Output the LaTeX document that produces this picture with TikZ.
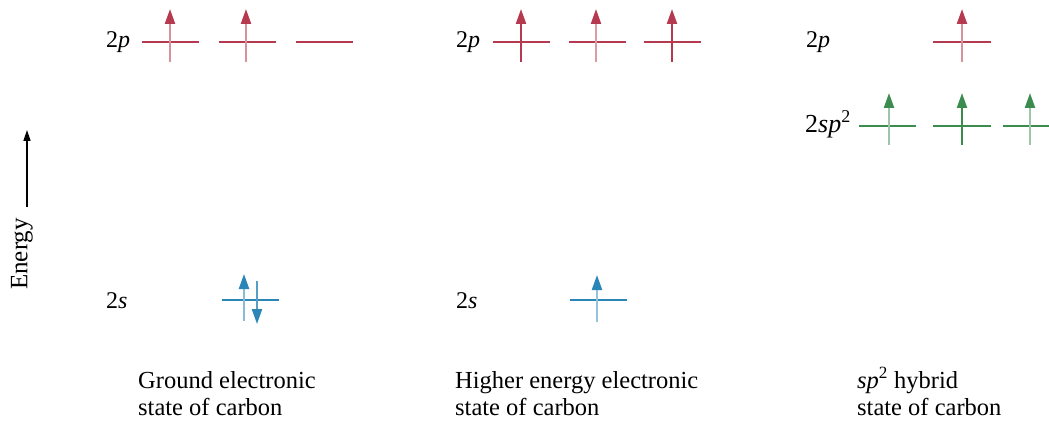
\documentclass[tikz,border=0pt]{standalone}
\usepackage{fontspec}
\setmainfont{Liberation Serif}
\usetikzlibrary{arrows.meta}
\definecolor{pred}{HTML}{B53A4F}
\definecolor{pgreen}{HTML}{3C8B4F}
\definecolor{pblue}{HTML}{2A86B6}
\tikzset{
  lvl/.style={line width=2.2pt},
  spin/.style={line width=2.2pt, -{Triangle[length=15pt,width=10pt,color=#1]}},
  lbl/.style={anchor=base west, inner sep=0pt, font=\fontsize{24}{28}\selectfont},
  capt/.style={anchor=base west, inner sep=0pt, align=left, font=\fontsize{24.5}{27}\selectfont},
}
\begin{document}
\begin{tikzpicture}[x=1pt,y=-1pt]
\useasboundingbox (0,0) rectangle (1049,422);
% Energy axis
\coordinate (eb) at (27,207);
\coordinate (et) at (27,130);
\draw[line width=1.6pt, -{Triangle[length=11pt,width=7pt]}] (eb) -- (et);
\node[rotate=90, inner sep=0pt, font=\fontsize{25}{28}\selectfont] (energy) at (22,254) {Energy};

% ---------- Panel 1: ground state ----------
\node[lbl] (l1p) at (106,48) {2\textit{p}};
\node[lbl] (l1s) at (106,308) {2\textit{s}};
\coordinate (g1) at (170.5,42);
\coordinate (g2) at (247,42);
\coordinate (g3) at (324,42);
\coordinate (g4) at (250,300);
\foreach \c/\col in {g1/pred,g2/pred,g3/pred,g4/pblue}
  \draw[lvl,\col] ([xshift=-28.5pt]\c) -- ([xshift=28.5pt]\c);
\draw[spin=pred, pred!55] ([shift={(-0.5,20)}]g1) -- ([shift={(-0.5,-33)}]g1);
\draw[spin=pred, pred!55] ([shift={(-1,20)}]g2) -- ([shift={(-1,-33)}]g2);
\draw[spin=pblue, pblue!55] ([shift={(-6,21)}]g4) -- ([shift={(-6,-26)}]g4);
\draw[spin=pblue, pblue!80] ([shift={(7,-19)}]g4) -- ([shift={(7,24)}]g4);
\node[capt] (c1) at (138,415) {Ground electronic\\state of carbon};

% ---------- Panel 2: excited state ----------
\node[lbl] (l2p) at (456,48) {2\textit{p}};
\node[lbl] (l2s) at (456,308) {2\textit{s}};
\coordinate (h1) at (521.5,42);
\coordinate (h2) at (597.5,42);
\coordinate (h3) at (672.5,42);
\coordinate (h4) at (598.5,300);
\foreach \c/\col in {h1/pred,h2/pred,h3/pred,h4/pblue}
  \draw[lvl,\col] ([xshift=-28.5pt]\c) -- ([xshift=28.5pt]\c);
\draw[spin=pred, pred] ([shift={(-0.5,20)}]h1) -- ([shift={(-0.5,-33)}]h1);
\draw[spin=pred, pred!50] ([shift={(-1.5,20)}]h2) -- ([shift={(-1.5,-33)}]h2);
\draw[spin=pred, pred] ([shift={(-0.5,20)}]h3) -- ([shift={(-0.5,-33)}]h3);
\draw[spin=pblue, pblue!50] ([shift={(-1.5,22)}]h4) -- ([shift={(-1.5,-25)}]h4);
\node[capt] (c2) at (455,415) {Higher energy electronic\\state of carbon};

% ---------- Panel 3: sp2 hybrid ----------
\node[lbl] (l3p) at (806,48) {2\textit{p}};
\node[lbl, font=\fontsize{26}{28}\selectfont] (l3h) at (805,133) {2\textit{sp}\raisebox{0.42em}{\fontsize{18}{18}\selectfont 2}};
\coordinate (k1) at (962,42);
\coordinate (k2) at (887.5,126);
\coordinate (k3) at (962,126);
\draw[lvl,pred] ([xshift=-29pt]k1) -- ([xshift=29pt]k1);
\draw[lvl,pgreen] ([xshift=-28.5pt]k2) -- ([xshift=28.5pt]k2);
\draw[lvl,pgreen] ([xshift=-29pt]k3) -- ([xshift=29pt]k3);
\coordinate (k4a) at (1003,126);
\coordinate (k4b) at (1049,126);
\draw[lvl,pgreen] (k4a) -- (k4b);
\coordinate (k4) at (1030,126);
\draw[spin=pred, pred!55] ([shift={(0,20)}]k1) -- ([shift={(0,-33)}]k1);
\draw[spin=pgreen, pgreen!50] ([shift={(1.5,19)}]k2) -- ([shift={(1.5,-33)}]k2);
\draw[spin=pgreen, pgreen] ([shift={(0,19)}]k3) -- ([shift={(0,-33)}]k3);
\draw[spin=pgreen, pgreen!50] ([shift={(0,19)}]k4) -- ([shift={(0,-33)}]k4);
\node[capt] (c3) at (857,415) {\textit{sp}\textsuperscript{2} hybrid\\state of carbon};
\end{tikzpicture}
\end{document}
